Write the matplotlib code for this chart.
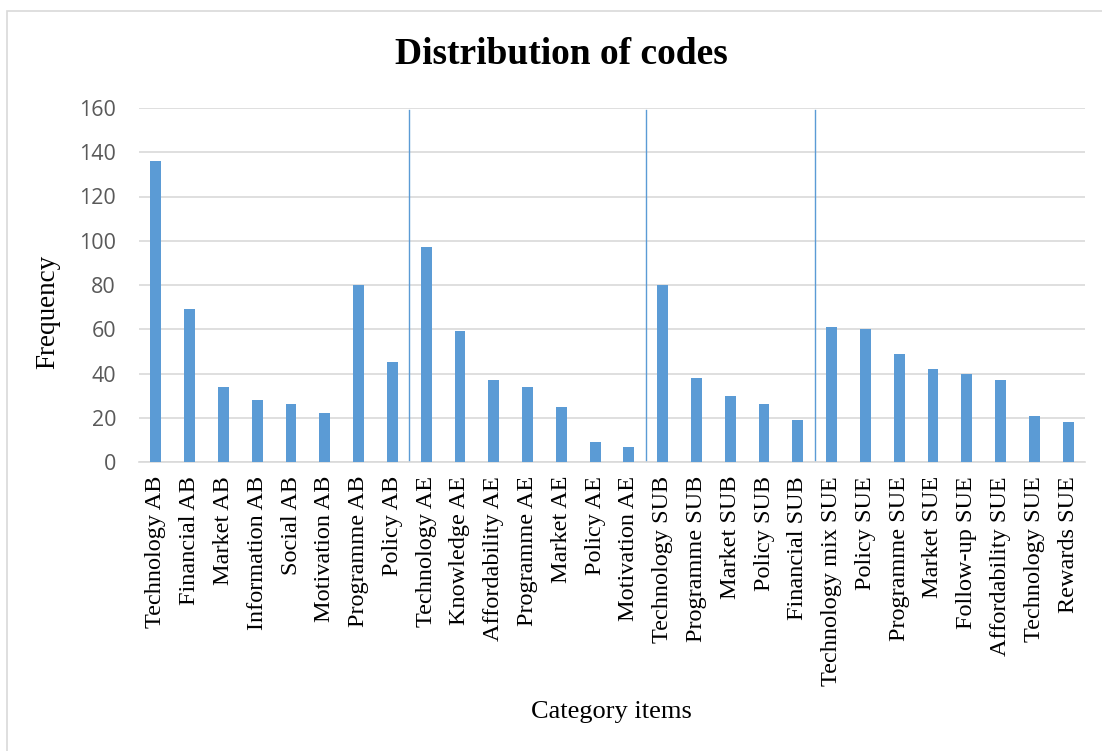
import matplotlib
matplotlib.use("Agg")
import matplotlib.pyplot as plt
from matplotlib.patches import Rectangle

categories = ["Technology AB", "Financial AB", "Market AB", "Information AB", "Social AB",
              "Motivation AB", "Programme AB", "Policy AB",
              "Technology AE", "Knowledge AE", "Affordability AE", "Programme AE", "Market AE",
              "Policy AE", "Motivation AE",
              "Technology SUB", "Programme SUB", "Market SUB", "Policy SUB", "Financial SUB",
              "Technology mix SUE", "Policy SUE", "Programme SUE", "Market SUE", "Follow-up SUE",
              "Affordability SUE", "Technology SUE", "Rewards SUE"]
frequency = [136, 69, 34, 28, 26, 22, 80, 45,
             97, 59, 37, 34, 25, 9, 7,
             80, 38, 30, 26, 19,
             61, 60, 49, 42, 40, 37, 21, 18]
# group separators (positions between categories) and their extent
separator_after = [7, 14, 19]
separator_range = (1, 159)
yticks = [0, 20, 40, 60, 80, 100, 120, 140, 160]

W, H = 1102, 751
fig = plt.figure(figsize=(W / 100, H / 100), dpi=100)
fig.patches.append(Rectangle((7 / W, -0.01), 1.2, 1 - 11 / H + 0.01, transform=fig.transFigure,
                             fill=False, edgecolor="#D9D9D9", linewidth=1.2))

ax = fig.add_axes([139 / W, (H - 462) / H, (1085 - 139) / W, (462 - 108) / H])
x = list(range(len(categories)))
ax.bar(x, frequency, width=0.32, color="#5B9BD5", zorder=3)
for s in separator_after:
    ax.plot([s + 0.5, s + 0.5], separator_range, color="#5B9BD5", linewidth=1.0, zorder=4)

ax.set_xlim(-0.5, len(categories) - 0.5)
ax.set_ylim(0, 160)
ax.set_yticks(yticks)
ax.yaxis.grid(True, color="#D9D9D9", linewidth=1.2, zorder=0)
ax.set_axisbelow(True)
for sp in ["top", "right", "left"]:
    ax.spines[sp].set_visible(False)
ax.spines["bottom"].set_color("#D9D9D9")
ax.spines["bottom"].set_linewidth(1.2)
ax.tick_params(axis="both", length=0)
ax.tick_params(axis="y", pad=16.5, labelsize=15.5, labelcolor="#595959")
for lab in ax.get_yticklabels():
    lab.set_family("Open Sans")
ax.set_xticks(x)
ax.set_xticklabels(categories, rotation=90, fontsize=17.5, family="Liberation Serif")
ax.tick_params(axis="x", pad=10)

fig.text(561 / W, 1 - 55 / H, "Distribution of codes", ha="center", va="center",
         fontsize=27, fontweight="bold", family="Liberation Serif")
fig.text(48 / W, 1 - 312 / H, "Frequency", ha="center", va="center", rotation=90,
         fontsize=19.5, family="Liberation Serif")
fig.text(611 / W, 1 - 712 / H, "Category items", ha="center", va="center",
         fontsize=19, family="Liberation Serif")

fig.savefig("out.png", dpi=100)
